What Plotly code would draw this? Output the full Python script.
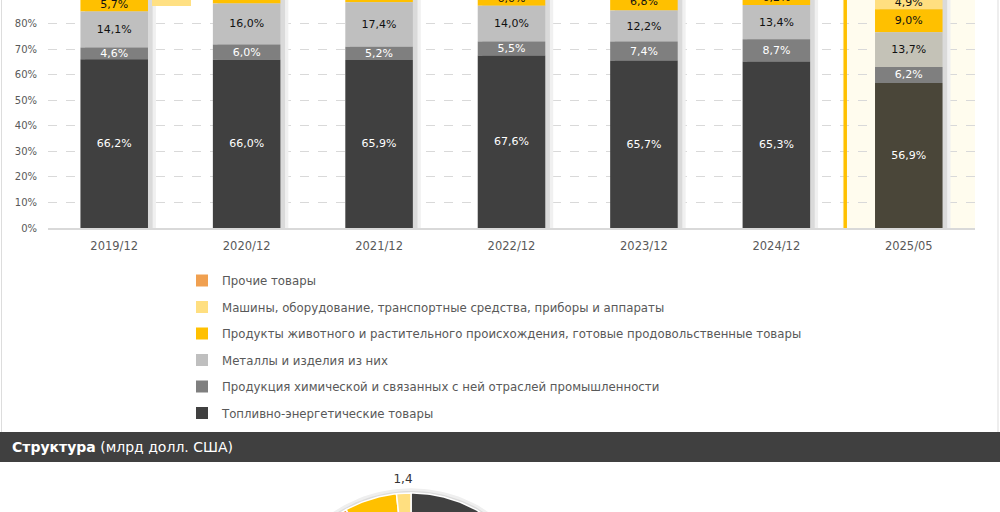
import numpy as np
import plotly.graph_objects as go

# ---------------- data ----------------
categories = ["2019/12", "2020/12", "2021/12", "2022/12", "2023/12", "2024/12", "2025/05"]
series_names = [
    "Топливно-энергетические товары",
    "Продукция химической и связанных с ней отраслей промышленности",
    "Металлы и изделия из них",
    "Продукты животного и растительного происхождения, готовые продовольственные товары",
    "Машины, оборудование, транспортные средства, приборы и аппараты",
    "Прочие товары",
]
fuel = [66.2, 66.0, 65.9, 67.6, 65.7, 65.3, 56.9]
chem = [4.6, 6.0, 5.2, 5.5, 7.4, 8.7, 6.2]
metals = [14.1, 16.0, 17.4, 14.0, 12.2, 13.4, 13.7]
food = [5.7, 6.0, 6.4, 6.0, 6.8, 6.2, 9.0]
machines = [2.5, 3.0, 2.2, 1.8, 2.0, 1.7, 4.9]
other = [6.9, 3.0, 2.9, 5.1, 5.9, 4.7, 9.3]
y_ticks = [0, 10, 20, 30, 40, 50, 60, 70, 80]
y_tick_labels = [f"{v}%" for v in y_ticks]

# pie (млрд долл. США), clockwise from 12 o'clock
pie_names = [series_names[0], series_names[1], series_names[2], series_names[5], series_names[3], series_names[4]]
pie_values = [53.2, 7.1, 10.9, 3.8, 5.1, 1.4]

# ---------------- styles ----------------
W, H = 1000, 512
colors_normal = ["#404040", "#7F7F7F", "#BFBFBF", "#FFC000", "#FFDF80", "#F0A050"]
colors_last = ["#4A4639", "#7F7F7F", "#C4C2B7", "#FFC000", "#FFDF80", "#F0A050"]
text_colors = ["#FFFFFF", "#FFFFFF", "#111111", "#111111", "#111111", "#111111"]
pie_colors = ["#404040", "#7F7F7F", "#BFBFBF", "#F0A050", "#FFC000", "#FFDF80"]
FONT = "DejaVu Sans"

def py(px):
    return 1 - px / H

fig = go.Figure()

stack = [fuel, chem, metals, food, machines, other]
n = len(categories)
totals = [sum(s[i] for s in stack) for i in range(n)]

BW = 0.51
OFF = -BW / 2
# soft shadow behind bars
fig.add_trace(go.Bar(x=categories, y=totals, base=[0] * n, width=BW, offset=OFF + 0.06,
                     marker=dict(color="#F0F0F0", line=dict(width=0)), showlegend=False, hoverinfo="skip"))
fig.add_trace(go.Bar(x=categories, y=totals, base=[0] * n, width=BW, offset=OFF + 0.035,
                     marker=dict(color="#DADADA", line=dict(width=0)), showlegend=False, hoverinfo="skip"))

# bases of each stacked segment
bases = []
acc = np.zeros(n)
for vals in stack:
    bases.append(acc.tolist())
    acc = acc + np.array(vals)

# add in reverse so the legend lists "Прочие товары" first
for k in reversed(range(len(stack))):
    name, vals = series_names[k], stack[k]
    cols = [colors_normal[k]] * (n - 1) + [colors_last[k]]
    fig.add_trace(go.Bar(
        x=categories, y=vals, base=bases[k], width=BW, offset=OFF,
        name=name, legendgroup=name,
        marker=dict(color=cols, line=dict(width=0)),
        texttemplate="%{y:.1f}%", textposition="inside", insidetextanchor="middle",
        textangle=0, textfont=dict(family=FONT, size=11, color=text_colors[k]),
        cliponaxis=True,
    ))

# ---------------- pie (drawn on a clipped cartesian window) ----------------
cx_px, cy_px, r_px = 411, 628, 135
top_px, bot_px = 462, 512
x2_range = [(0 - cx_px) / r_px, (W - cx_px) / r_px]
y2_range = [(cy_px - bot_px) / r_px, (cy_px - top_px) / r_px]

th = np.linspace(0, 2 * np.pi, 200)
fig.add_trace(go.Scatter(x=1.035 * np.sin(th), y=1.035 * np.cos(th), fill="toself", mode="lines",
                         line=dict(width=0), fillcolor="#EFEFEF", xaxis="x2", yaxis="y2",
                         showlegend=False, hoverinfo="skip"))
fig.add_trace(go.Scatter(x=1.015 * np.sin(th), y=1.015 * np.cos(th), fill="toself", mode="lines",
                         line=dict(width=0), fillcolor="#DCDCDC", xaxis="x2", yaxis="y2",
                         showlegend=False, hoverinfo="skip"))
tot = sum(pie_values)
a0 = 0.0
lab_x, lab_y, lab_t = [], [], []
for name, v, c in zip(pie_names, pie_values, pie_colors):
    a1 = a0 + 2 * np.pi * v / tot
    t = np.linspace(a0, a1, max(4, int(360 * v / tot)))
    xs = np.concatenate([[0], np.sin(t), [0]])
    ys = np.concatenate([[0], np.cos(t), [0]])
    fig.add_trace(go.Scatter(x=xs, y=ys, fill="toself", mode="lines", fillcolor=c,
                             line=dict(color="#FFFFFF", width=1.5), xaxis="x2", yaxis="y2",
                             name=name, showlegend=False, hoverinfo="skip"))
    am = (a0 + a1) / 2
    rr = 1.1 if v / tot < 0.03 else 0.65   # small slices labelled outside
    lab_x.append(rr * np.sin(am))
    lab_y.append(rr * np.cos(am))
    lab_t.append(f"{v:.1f}".replace(".", ","))
    a0 = a1
fig.add_trace(go.Scatter(x=lab_x, y=lab_y, text=lab_t, mode="text", xaxis="x2", yaxis="y2",
                         textfont=dict(family=FONT, size=12, color="#333333"),
                         showlegend=False, hoverinfo="skip"))

# ---------------- layout ----------------
shapes = [
    dict(type="rect", xref="x", yref="y domain", x0=5.5, x1=6.5, y0=0, y1=1,
         fillcolor="#FFFCEE", line=dict(width=0), layer="below"),
    dict(type="line", xref="x", yref="y domain", x0=5.52, x1=5.52, y0=0, y1=1,
         line=dict(color="#FFC000", width=3.5), layer="above"),
    dict(type="rect", xref="paper", yref="paper", x0=0.152, x1=0.191, y0=py(6), y1=1,
         fillcolor="#FFE083", line=dict(width=0)),
    dict(type="line", xref="paper", yref="paper", x0=0.0015, x1=0.0015, y0=py(432), y1=1,
         line=dict(color="#DDDDDD", width=1)),
    dict(type="line", xref="paper", yref="paper", x0=0.998, x1=0.998, y0=py(432), y1=1,
         line=dict(color="#DDDDDD", width=1)),
    dict(type="rect", xref="paper", yref="paper", x0=0, x1=1, y0=py(462), y1=py(432),
         fillcolor="#404040", line=dict(width=0)),
]

fig.update_layout(
    width=W, height=H,
    margin=dict(l=0, r=0, t=0, b=0, pad=0),
    paper_bgcolor="#FFFFFF", plot_bgcolor="rgba(0,0,0,0)",
    barmode="overlay",
    separators=", ",
    uniformtext=dict(minsize=11, mode="show"),
    font=dict(family=FONT, color="#595959"),
    xaxis=dict(domain=[0.048, 0.975], type="category", range=[-0.5, 6.5], automargin=False,
               showgrid=False, showline=True, linecolor="#D9D9D9", linewidth=2,
               ticks="outside", ticklen=6, tickcolor="rgba(0,0,0,0)",
               tickfont=dict(family=FONT, size=11.5, color="#595959"), fixedrange=True),
    yaxis=dict(domain=[py(228), 1], range=[0, 89.4], tickmode="array",
               tickvals=y_ticks, ticktext=y_tick_labels, automargin=False,
               showgrid=True, gridcolor="#D9D9D9", griddash="dash", gridwidth=1,
               zeroline=False, showline=False,
               ticks="outside", ticklen=8, tickcolor="rgba(0,0,0,0)",
               tickfont=dict(family=FONT, size=10, color="#595959"), fixedrange=True),
    xaxis2=dict(domain=[0, 1], range=x2_range, visible=False, anchor="y2",
                automargin=False, fixedrange=True),
    yaxis2=dict(domain=[0, py(top_px)], range=y2_range, visible=False, anchor="x2",
                automargin=False, fixedrange=True),
    legend=dict(orientation="v", x=0.182, y=py(266), xanchor="left", yanchor="top",
                traceorder="grouped", tracegroupgap=7.5,
                font=dict(family=FONT, size=11.75, color="#595959"),
                bgcolor="rgba(0,0,0,0)"),
    shapes=shapes,
    annotations=[
        dict(xref="paper", yref="paper", x=0.01, y=py(447), xanchor="left", yanchor="middle",
             text="<b>Структура</b> (млрд долл. США)", showarrow=False,
             font=dict(family=FONT, size=14, color="#FFFFFF")),
    ],
)

fig.write_html(
    "out.html",
    config={"displayModeBar": False},
    post_script="document.body.style.margin='0';document.body.style.overflow='hidden';",
)
